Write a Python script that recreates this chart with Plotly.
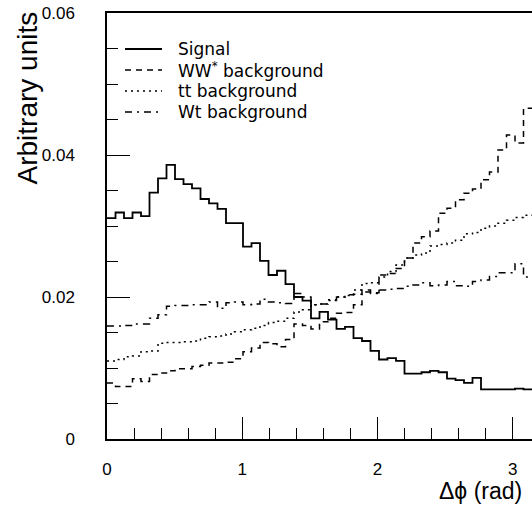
import numpy as np
import plotly.graph_objects as go

# ---- data: 50 bins over [0, pi] ----
n_bins = 50
x_min, x_max = 0.0, float(np.pi)

signal = [0.0311, 0.0319, 0.0311, 0.0319, 0.0314, 0.0347, 0.0367, 0.0386, 0.0366, 0.0359,
          0.0353, 0.0338, 0.0332, 0.0324, 0.0304, 0.0304, 0.0271, 0.0276, 0.0251, 0.0231,
          0.0237, 0.0218, 0.0200, 0.0195, 0.0170, 0.0179, 0.0168, 0.0155, 0.0158, 0.0142,
          0.0138, 0.0124, 0.0112, 0.0114, 0.0110, 0.0092, 0.0092, 0.0094, 0.0096, 0.0094,
          0.0085, 0.0083, 0.0079, 0.0086, 0.0070, 0.0070, 0.0070, 0.0070, 0.0071, 0.0070]

ww_bkg = [0.0079, 0.0074, 0.0074, 0.0085, 0.0081, 0.0091, 0.0093, 0.0096, 0.0099, 0.0099,
          0.0102, 0.0104, 0.0107, 0.0107, 0.0108, 0.0113, 0.0123, 0.0128, 0.0136, 0.0134,
          0.0130, 0.0140, 0.0162, 0.0160, 0.0155, 0.0165, 0.0170, 0.0177, 0.0178, 0.0189,
          0.0210, 0.0206, 0.0231, 0.0233, 0.0240, 0.0255, 0.0276, 0.0285, 0.0293, 0.0318,
          0.0325, 0.0337, 0.0346, 0.0352, 0.0365, 0.0376, 0.0407, 0.0428, 0.0417, 0.0466]

tt_bkg = [0.0110, 0.0112, 0.0116, 0.0117, 0.0123, 0.0124, 0.0135, 0.0136, 0.0136, 0.0137,
          0.0138, 0.0142, 0.0144, 0.0145, 0.0148, 0.0151, 0.0154, 0.0156, 0.0160, 0.0164,
          0.0166, 0.0170, 0.0179, 0.0182, 0.0189, 0.0190, 0.0195, 0.0200, 0.0202, 0.0210,
          0.0219, 0.0220, 0.0228, 0.0236, 0.0245, 0.0255, 0.0259, 0.0262, 0.0272, 0.0274,
          0.0276, 0.0280, 0.0289, 0.0291, 0.0297, 0.0300, 0.0304, 0.0308, 0.0312, 0.0315]

wt_bkg = [0.0159, 0.0159, 0.0160, 0.0162, 0.0162, 0.0170, 0.0175, 0.0187, 0.0188, 0.0188,
          0.0189, 0.0189, 0.0193, 0.0184, 0.0192, 0.0193, 0.0189, 0.0190, 0.0197, 0.0193,
          0.0192, 0.0191, 0.0205, 0.0200, 0.0189, 0.0190, 0.0196, 0.0200, 0.0203, 0.0204,
          0.0207, 0.0205, 0.0210, 0.0211, 0.0212, 0.0215, 0.0217, 0.0220, 0.0216, 0.0217,
          0.0222, 0.0216, 0.0215, 0.0222, 0.0224, 0.0229, 0.0234, 0.0234, 0.0247, 0.0228]

series_names = ["Signal", "WW<sup>*</sup> background", "tt background", "Wt background"]
x_ticks = [0, 1, 2, 3]
y_ticks = [0, 0.02, 0.04, 0.06]
y_tick_text = ["0", "0.02", "0.04", "0.06"]

edges = np.linspace(x_min, x_max, n_bins + 1)

dashes = ["solid", "6px,5px", "2px,4px", "7px,5px,2px,5px"]
widths = [1.8, 1.5, 1.5, 1.5]

fig = go.Figure()
for vals, name, dash, w in zip([signal, ww_bkg, tt_bkg, wt_bkg], series_names, dashes, widths):
    fig.add_trace(go.Scatter(
        x=edges, y=list(vals) + [vals[-1]], mode="lines", line_shape="hv",
        line=dict(color="black", width=w, dash=dash), name=name, showlegend=False))

# ---- manual legend (paper coords) ----
L, R, T, B = 107, 532, 13, 439
W, H = R - L, B - T
def px(xp): return (xp - L) / W
def py(yp): return (B - yp) / H

legend_rows = [49, 70, 91, 112]
for name, dash, w, yr in zip(series_names, dashes, widths, legend_rows):
    fig.add_shape(type="line", xref="paper", yref="paper",
                  x0=px(125), x1=px(162), y0=py(yr), y1=py(yr),
                  line=dict(color="black", width=w, dash=dash))
    fig.add_annotation(xref="paper", yref="paper", x=px(176), y=py(yr),
                       xanchor="left", yanchor="middle", showarrow=False,
                       text=name, font=dict(family="DejaVu Sans", size=17, color="black"))

# axis titles as annotations
fig.add_annotation(xref="paper", yref="paper", x=px(524), y=py(476),
                   xanchor="right", yanchor="top", showarrow=False,
                   text="Δϕ (rad)", font=dict(family="Liberation Sans", size=23, color="black"))
fig.add_annotation(xref="paper", yref="paper", x=px(27), y=py(10),
                   xanchor="center", yanchor="top", showarrow=False, textangle=-90,
                   text="Arbitrary units", font=dict(family="Liberation Sans", size=28, color="black"))

axis_font = dict(family="Liberation Sans", size=17, color="black")
fig.update_layout(
    width=532, height=509,
    margin=dict(l=L, r=532 - R, t=T, b=509 - B, pad=0),
    paper_bgcolor="white", plot_bgcolor="white",
    xaxis=dict(range=[x_min, x_max], tickvals=x_ticks, ticks="inside", ticklen=22,
               tickwidth=1.2, tickcolor="black", showline=True, linecolor="black",
               linewidth=1.5, mirror=True, showgrid=False, zeroline=False,
               tickfont=axis_font, ticklabelstandoff=14,
               minor=dict(dtick=0.2, tick0=0, ticks="inside", ticklen=11,
                          tickwidth=1.2, tickcolor="black", showgrid=False)),
    yaxis=dict(range=[0, 0.06], tickvals=y_ticks, ticktext=y_tick_text, ticks="inside",
               ticklen=23, tickwidth=1.2, tickcolor="black", showline=True,
               linecolor="black", linewidth=1.5, mirror=False, showgrid=False,
               zeroline=False, tickfont=axis_font, ticklabelstandoff=27,
               minor=dict(dtick=0.005, tick0=0, ticks="inside", ticklen=11,
                          tickwidth=1.2, tickcolor="black", showgrid=False)),
)

fig.write_html("out.html")
